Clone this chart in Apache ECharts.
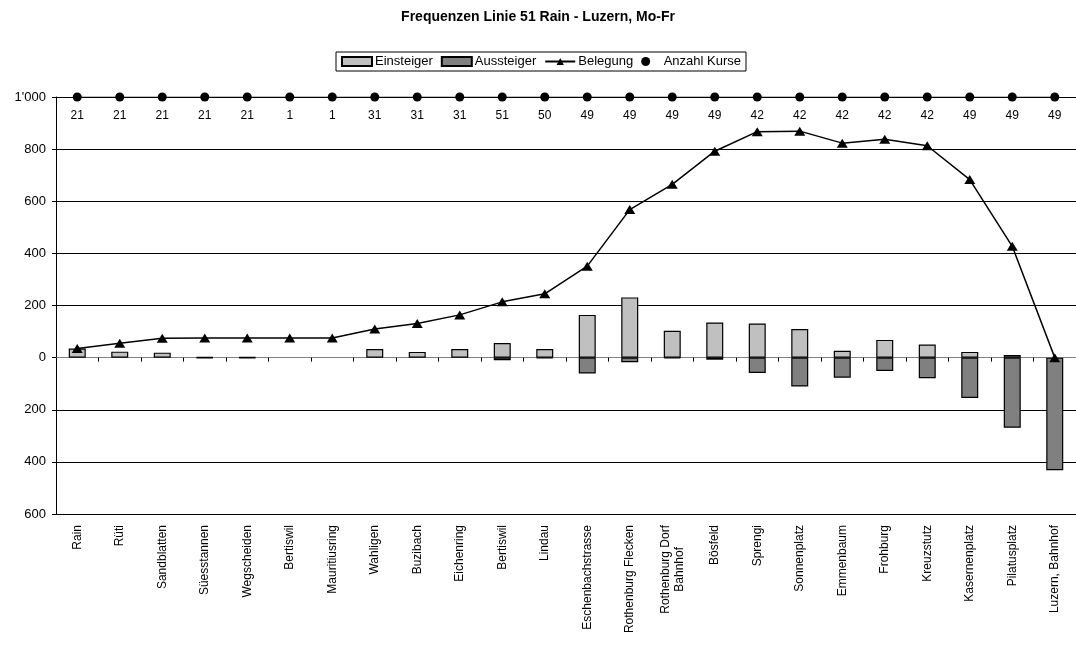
<!DOCTYPE html>
<html>
<head>
<meta charset="utf-8">
<script src="https://cdn.jsdelivr.net/npm/echarts@6/dist/echarts.min.js"></script>
<style>html,body{margin:0;padding:0;background:#fff}#c{width:1076px;height:650px}</style>
</head>
<body>
<div id="c"></div>
<script>
var chartTitle = 'Frequenzen Linie 51 Rain - Luzern, Mo-Fr';
var stops = ['Rain','Rüti','Sandblatten','Süesstannen','Wegscheiden','Bertiswil','Mauritiusring','Wahligen','Buzibach','Eichenring','Bertiswil','Lindau','Eschenbachstrasse','Rothenburg Flecken','Rothenburg Dorf\nBahnhof','Bösfeld','Sprengi','Sonnenplatz','Emmenbaum','Frohburg','Kreuzstutz','Kasernenplatz','Pilatusplatz','Luzern, Bahnhof'];
var einsteiger = [35,23,19,2,2,0,0,33,22,33,56,33,164,231,103,135,131,110,26,68,50,22,10,0];
var aussteiger = [0,0,0,2,2,0,0,0,0,0,10,3,61,18,3,8,59,111,77,51,79,155,269,432];
var belegung = [35,55,74,75,75,75,75,110,131,164,214,245,351,568,665,792,867,869,823,838,813,683,427,0];
var anzahlKurse = [21,21,21,21,21,1,1,31,31,31,51,50,49,49,49,49,42,42,42,42,42,49,49,49];
var kurseLevel = 1000;
var yMin = -600, yMax = 1000, yInterval = 200;

var FONT = '"Liberation Sans", Arial, sans-serif';
var chart = echarts.init(document.getElementById('c'));

function fmtY(v) {
  var a = Math.abs(v);
  if (a >= 1000) return Math.floor(a / 1000) + "'" + String(a % 1000).padStart(3, '0');
  return String(a);
}

var option = {
  animation: false,
  textStyle: { fontFamily: FONT, color: '#000' },
  title: {
    text: chartTitle,
    left: 'center', top: 5,
    textStyle: { fontFamily: FONT, fontSize: 14, fontWeight: 'bold', color: '#000' }
  },
  legend: {
    left: 336, top: 52,
    padding: [3, 5, 3, 5],
    borderColor: '#000', borderWidth: 1,
    itemWidth: 30, itemHeight: 9, itemGap: 8,
    textStyle: { fontFamily: FONT, fontSize: 13, color: '#000', padding: [0, 0, 0, -2] },
    data: [
      { name: 'Einsteiger', icon: 'rect' },
      { name: 'Aussteiger', icon: 'rect' },
      { name: 'Belegung' },
      { name: 'Anzahl Kurse', icon: 'circle' }
    ]
  },
  grid: { left: 56, right: 0, top: 97, bottom: 136, containLabel: false },
  xAxis: [
    {
      type: 'category', data: stops, position: 'bottom',
      axisLine: { onZero: false, lineStyle: { color: '#000', width: 1 } },
      axisTick: { show: false },
      axisLabel: {
        rotate: 90, margin: 11, fontSize: 12, color: '#000', fontFamily: FONT,
        interval: 0,
        formatter: function (v) {
          if (v.indexOf('\n') >= 0) {
            return v.split('\n').map(function (s) { return '{c|' + s + '}'; }).join('\n');
          }
          return v;
        },
        rich: { c: { align: 'center', fontSize: 12, fontFamily: FONT, color: '#000', lineHeight: 14 } }
      },
      splitLine: { show: false }
    },
    {
      type: 'category', data: stops, position: 'bottom',
      axisLine: { onZero: true, lineStyle: { color: '#808080', width: 1 } },
      axisTick: { show: true, interval: 0, length: 4, inside: false, lineStyle: { color: '#000' } },
      axisLabel: { show: false, interval: 0 },
      splitLine: { show: false }
    }
  ],
  yAxis: {
    type: 'value', min: yMin, max: yMax, interval: yInterval,
    axisLine: { show: true, lineStyle: { color: '#000', width: 1 } },
    axisTick: { show: true, length: 4, lineStyle: { color: '#000' } },
    axisLabel: { formatter: fmtY, fontSize: 13, color: '#000', margin: 10, fontFamily: FONT },
    splitLine: { show: true, lineStyle: { color: ['#000', '#000', '#000', '#808080', '#000', '#000', '#000', '#000', '#000'], width: 1 } }
  },
  series: [
    {
      name: 'Einsteiger', type: 'bar', xAxisIndex: 0,
      barWidth: 17, barGap: '-100%',
      itemStyle: { color: '#c0c0c0', borderColor: '#000', borderWidth: 1.2 },
      data: einsteiger.map(function (v) { return v ? v : null; }),
      z: 3
    },
    {
      name: 'Aussteiger', type: 'bar', xAxisIndex: 0,
      barWidth: 17, barGap: '-100%',
      itemStyle: { color: '#808080', borderColor: '#000', borderWidth: 1.2 },
      data: aussteiger.map(function (v) { return v ? -v : null; }),
      z: 3
    },
    {
      name: 'Belegung', type: 'line', xAxisIndex: 0,
      symbol: 'triangle', symbolSize: [11, 9],
      lineStyle: { color: '#000', width: 1.5 },
      itemStyle: { color: '#000' },
      data: belegung,
      z: 5
    },
    {
      name: 'Anzahl Kurse', type: 'line', xAxisIndex: 0,
      symbol: 'circle', symbolSize: 9,
      lineStyle: { color: '#000', width: 1 },
      itemStyle: { color: '#000' },
      data: anzahlKurse.map(function () { return kurseLevel; }),
      label: {
        show: true, position: 'bottom', distance: 8,
        fontSize: 12, color: '#000', fontFamily: FONT,
        formatter: function (p) { return String(anzahlKurse[p.dataIndex]); }
      },
      z: 5
    }
  ]
};
chart.setOption(option);
</script>
</body>
</html>
